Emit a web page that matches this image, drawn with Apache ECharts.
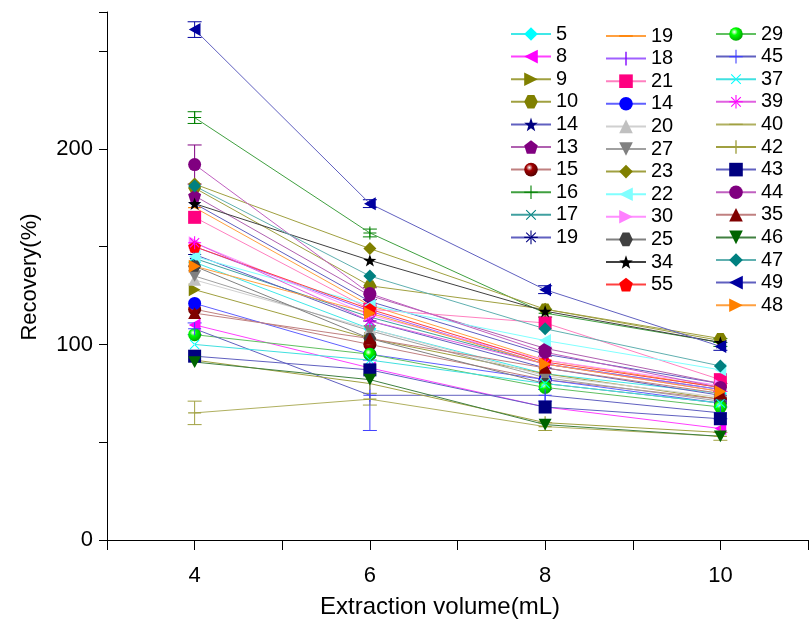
<!DOCTYPE html>
<html><head><meta charset="utf-8">
<script src="https://cdn.jsdelivr.net/npm/echarts@6/dist/echarts.min.js"></script>
<style>html,body{margin:0;padding:0;background:#fff}#c{width:811px;height:624px}</style>
</head><body><div id="c"></div>
<script>
// ---- data ----
const volumes = [4, 6, 8, 10];
const xTickLabels = [4, 6, 8, 10];
const yTickLabels = [0, 100, 200];

const legendCol1 = ['5','8','9','10','14','13','15','16','17','19'];
const legendCol2 = ['19 ','18','21','14 ','20','27','23','22','30','25','34','55'];
const legendCol3 = ['29','45','37','39','40','42','43','44','35','46','47','49','48'];

const v5   = [142, 108, 85, 75];
const v8   = [110, 88, 68, 57];
const v9   = [128, 103, 85, 72];
const v10  = [180, 130, 118, 103];
const v14a = [172, 122, 95, 80];
const v13  = [176, 125, 98, 80];
const v15  = [118, 100, 82, 72];
const v16  = [216, 157, 116, 101];
const v17  = [144, 114, 90, 77];
const v19a = [146, 112, 88, 74];
const v19b = [170, 120, 92, 78];
const v18  = [150, 117, 90, 77];
const v21  = [165, 118, 111, 82];
const v14b = [121, 95, 82, 70];
const v20  = [133, 108, 84, 73];
const v27  = [135, 107, 83, 71];
const v23  = [182, 149, 118, 102];
const v22  = [145, 120, 102, 87];
const v30  = [152, 115, 92, 79];
const v25  = [140, 103, 80, 70];
const v34  = [172, 143, 117, 101];
const v55  = [150, 118, 91, 78];
const v29  = [105, 95, 78, 68];
const v45  = [108, 74, 74, 65];
const v37  = [100, 92, 80, 70];
const v39  = [152, 112, 90, 76];
const v40  = [65, 72, 58, 53];
const v42  = [92, 80, 60, 55];
const v43  = [94, 87, 68, 62];
const v44  = [192, 126, 96, 78];
const v35  = [116, 103, 88, 75];
const v46  = [91, 82, 59, 53];
const v47  = [181, 135, 108, 89];
const v49  = [261, 172, 128, 99];
const v48  = [140, 116, 90, 76];

// error bars (only those visibly larger than the markers)
const err49 = [4, 2, 2, 2];
const err16 = [3, 2, 2, 2];
const err44 = [10, 3, 2, 2];
const err40 = [6, 3, 2, 2];
const err45 = [3, 18, 3, 3];

// ---- symbols (square bounding boxes so legend icons keep shape) ----
const BOX = ' M-10,-10 L-10,-10 Z M10,10 L10,10 Z';
const HEX  = 'path://M-10,0 L-5,-8.66 L5,-8.66 L10,0 L5,8.66 L-5,8.66 Z';
const STAR = 'path://M0,-10 L2.35,-3.24 L9.51,-3.09 L3.8,1.24 L5.88,8.09 L0,4 L-5.88,8.09 L-3.8,1.24 L-9.51,-3.09 L-2.35,-3.24 Z';
const PENT = 'path://M0,-10 L9.51,-3.09 L5.88,8.09 L-5.88,8.09 L-9.51,-3.09 Z';
const PLUS = 'path://M-0.8,-10 L0.8,-10 L0.8,-0.8 L10,-0.8 L10,0.8 L0.8,0.8 L0.8,10 L-0.8,10 L-0.8,0.8 L-10,0.8 L-10,-0.8 L-0.8,-0.8 Z';
const CROSS = 'path://M-7.6,-6.5 L6.5,7.6 L7.6,6.5 L-6.5,-7.6 Z M6.5,-7.6 L7.6,-6.5 L-6.5,7.6 L-7.6,6.5 Z' + BOX;
const AST  = 'path://M-0.8,-10 L0.8,-10 L0.8,10 L-0.8,10 Z M-10,-0.8 L10,-0.8 L10,0.8 L-10,0.8 Z M-7.6,-6.5 L6.5,7.6 L7.6,6.5 L-6.5,-7.6 Z M6.5,-7.6 L7.6,-6.5 L-6.5,7.6 L-7.6,6.5 Z M-2,-2 L2,-2 L2,2 L-2,2 Z';
const DASH = 'path://M-10,-1 L10,-1 L10,1 L-10,1 Z' + BOX;
const VBAR = 'path://M-1,-10 L1,-10 L1,10 L-1,10 Z' + BOX;
const LT = 'path://M-9,0 L9,-10 L9,10 Z';
const RT = 'path://M9,0 L-9,-10 L-9,10 Z';
const UT = 'path://M0,-9 L10,9 L-10,9 Z';
const DT = 'path://M0,9 L10,-9 L-10,-9 Z';
function sphere(c1, c2){ return {type:'radial',x:0.38,y:0.35,r:0.7,colorStops:[{offset:0,color:'#ffffff'},{offset:0.35,color:c1},{offset:1,color:c2}]}; }

const specs = [
  ['5', v5, 'diamond', '#00ffff', '#40e8e8'],
  ['8', v8, LT, '#ff00ff', '#ff40ff'],
  ['9', v9, RT, '#808000', '#a0a040'],
  ['10', v10, HEX, '#808000', '#a0a040'],
  ['14', v14a, STAR, '#000080', '#6060c0'],
  ['13', v13, PENT, '#800080', '#b060b0'],
  ['15', v15, 'circle', sphere('#a00000','#500000'), '#c08080'],
  ['16', v16, PLUS, '#008000', '#40a040'],
  ['17', v17, CROSS, '#008080', '#40a0a0'],
  ['19', v19a, AST, '#000080', '#6060c0'],
  ['19 ', v19b, DASH, '#ff8000', '#ffa040'],
  ['18', v18, VBAR, '#8000ff', '#a060ff'],
  ['21', v21, 'rect', '#ff0080', '#ff80c0'],
  ['14 ', v14b, 'circle', '#0000ff', '#6060ff'],
  ['20', v20, UT, '#c0c0c0', '#d0d0d0'],
  ['27', v27, DT, '#808080', '#a0a0a0'],
  ['23', v23, 'diamond', '#808000', '#a0a040'],
  ['22', v22, LT, '#80ffff', '#80ffff'],
  ['30', v30, RT, '#ff80ff', '#ff90ff'],
  ['25', v25, HEX, '#404040', '#808080'],
  ['34', v34, STAR, '#000000', '#404040'],
  ['55', v55, PENT, '#ff0000', '#ff4040'],
  ['29', v29, 'circle', sphere('#00ff00','#00a000'), '#60c060'],
  ['45', v45, PLUS, '#4040ff', '#6060c0'],
  ['37', v37, CROSS, '#00ffff', '#40e0e0'],
  ['39', v39, AST, '#ff00ff', '#e060e0'],
  ['40', v40, DASH, '#a0a040', '#b0b060'],
  ['42', v42, VBAR, '#a0a040', '#a0a040'],
  ['43', v43, 'rect', '#000080', '#6060c0'],
  ['44', v44, 'circle', '#800080', '#c060c0'],
  ['35', v35, UT, '#800000', '#c08080'],
  ['46', v46, DT, '#006400', '#408040'],
  ['47', v47, 'diamond', '#008080', '#60b0b0'],
  ['49', v49, LT, '#0000a0', '#6060c0'],
  ['48', v48, RT, '#ff8000', '#ffa040']
];
const errSpecs = [
  [v49, err49, '#0000a0'],
  [v16, err16, '#008000'],
  [v44, err44, '#800080'],
  [v40, err40, '#a0a040'],
  [v45, err45, '#4040ff']
];

const series = [];
errSpecs.forEach(function(e, k){
  series.push({
    type: 'custom', name: 'err' + k, z: 1,
    data: volumes.map(function(x, i){ return [x, e[0][i], e[1][i]]; }),
    renderItem: function(params, api){
      const x = api.value(0), y = api.value(1), d = api.value(2);
      const t = api.coord([x, y + d]), b = api.coord([x, y - d]);
      const w = 7, st = {stroke: e[2], lineWidth: 1};
      return {type:'group', children:[
        {type:'line', shape:{x1:t[0],y1:t[1],x2:b[0],y2:b[1]}, style:st},
        {type:'line', shape:{x1:t[0]-w,y1:t[1],x2:t[0]+w,y2:t[1]}, style:st},
        {type:'line', shape:{x1:b[0]-w,y1:b[1],x2:b[0]+w,y2:b[1]}, style:st}
      ]};
    }
  });
});
specs.forEach(function(s){
  series.push({
    type: 'line', name: s[0], z: 2,
    data: volumes.map(function(x, i){ return [x, s[1][i]]; }),
    symbol: s[2], symbolSize: 13, symbolKeepAspect: true,
    itemStyle: {color: s[3], opacity: 1},
    lineStyle: {color: s[4], width: 1},
    emphasis: {disabled: true}
  });
});

function mkLegend(names, left, top){
  return {
    data: names, orient: 'vertical', left: left, top: top,
    itemWidth: 40, itemHeight: 17, itemGap: 2.6,
    selectedMode: false,
    formatter: function(n){ return n.trim(); },
    textStyle: {fontSize: 20, color: '#000', fontFamily: 'Liberation Sans, Arial', lineHeight: 20}
  };
}

const chart = echarts.init(document.getElementById('c'));
chart.setOption({
  animation: false,
  backgroundColor: '#fff',
  grid: {left: 107, right: -6, top: 12, bottom: 84},
  legend: [mkLegend(legendCol1, 505, 19), mkLegend(legendCol2, 600, 21), mkLegend(legendCol3, 710, 19)],
  xAxis: {
    type: 'value', min: 3, max: 11, interval: 1,
    axisLine: {lineStyle: {color: '#000', width: 1}},
    axisTick: {length: 10, lineStyle: {color: '#000'}},
    splitLine: {show: false},
    axisLabel: {
      margin: 25, fontSize: 22, color: '#000', fontFamily: 'Liberation Sans, Arial',
      formatter: function(v){ return xTickLabels.indexOf(v) >= 0 ? String(v) : ''; }
    }
  },
  yAxis: {
    type: 'value', min: 0, max: 270, interval: 50,
    axisLine: {show: true, lineStyle: {color: '#000', width: 1}},
    axisTick: {show: true, length: 8, lineStyle: {color: '#000'}},
    splitLine: {show: false},
    axisLabel: {
      margin: 14, fontSize: 22, color: '#000', fontFamily: 'Liberation Sans, Arial',
      formatter: function(v){ return yTickLabels.indexOf(v) >= 0 ? String(v) : ''; }
    }
  },
  graphic: [
    {type:'text', x: 440, y: 607,
     style:{text:'Extraction volume(mL)', fontSize: 24, fill:'#000', fontFamily:'Liberation Sans, Arial', align:'center', verticalAlign:'middle'}},
    {type:'text', x: 30, y: 277, rotation: Math.PI/2,
     style:{text:'Recovery(%)', fontSize: 22, fill:'#000', fontFamily:'Liberation Sans, Arial', align:'center', verticalAlign:'middle'}}
  ],
  series: series
});
</script>
</body></html>
